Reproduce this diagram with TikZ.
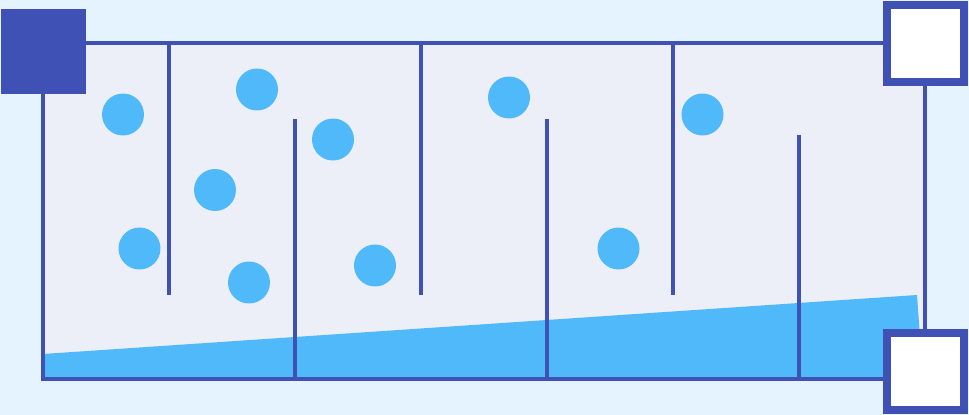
\documentclass[tikz,border=0pt]{standalone}
\definecolor{bgblue}{HTML}{E5F3FF}
\definecolor{tankfill}{HTML}{ECEFF8}
\definecolor{wallblue}{HTML}{3F51B5}
\definecolor{waterblue}{HTML}{4FB9FA}
\tikzset{
  wall/.style={draw=wallblue,line width=0.08cm},
  inlet/.style={fill=wallblue,inner sep=0,outer sep=0,minimum size=1.7cm},
  vent/.style={draw=wallblue,fill=white,line width=0.16cm,inner sep=0,outer sep=0,minimum size=1.54cm},
  bubble/.style={circle,fill=waterblue,inner sep=0,outer sep=0,minimum size=0.84cm}
}
\begin{document}
\begin{tikzpicture}[x=0.02cm,y=-0.02cm]
\fill[bgblue] (0,0) rectangle (969,415);
\useasboundingbox (0,0) rectangle (969,415);
\fill[tankfill] (43,43) rectangle (925,379);
\fill[waterblue] (43,354) -- (917,295) -- (923,379) -- (43,379) -- cycle;
\foreach \i/\x/\y in {0/123/114.5, 1/257/89.5, 2/333/139.5, 3/215/190, 4/139.5/248.5, 5/249/282.5, 6/375/265.5, 7/509/97.5, 8/618.5/248.5, 9/702.5/114.5}
  \node[bubble] (b\i) at (\x,\y) {};
\foreach \i/\x/\s/\e in {0/169/43/295, 1/295/119/379, 2/421/43/295, 3/547/119/379, 4/673/43/295, 5/799/135/379} {
  \coordinate (s\i) at (\x,\s);
  \coordinate (e\i) at (\x,\e);
  \draw[wall] (s\i) -- (e\i);
}
\coordinate (nw) at (43,43);
\coordinate (ne) at (925,43);
\coordinate (se) at (925,379);
\coordinate (sw) at (43,379);
\draw[wall,line cap=rect] (nw) -- (ne);
\draw[wall] (ne) -- (se);
\draw[wall,line cap=rect] (se) -- (sw) -- (nw);
\node[inlet] (inlet) at (43.5,51.5) {};
\node[vent] (ventup) at (925.5,43.5) {};
\node[vent] (ventdown) at (925.5,371.5) {};
\end{tikzpicture}
\end{document}
